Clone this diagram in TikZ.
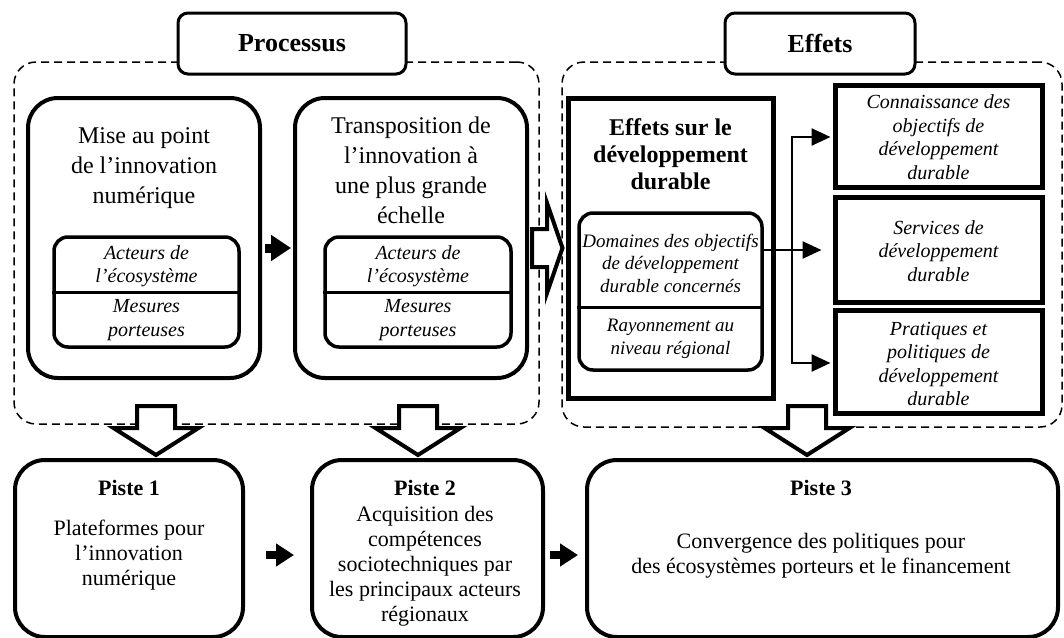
\documentclass[tikz,border=0pt]{standalone}
\usepackage{fontspec}
\setmainfont{Liberation Serif}
\usetikzlibrary{arrows.meta,calc}
\tikzset{
  bigbox/.style={draw, line width=4pt, rounded corners=30pt, inner sep=0pt},
  innerbox/.style={draw, line width=3.5pt, rounded corners=14pt, inner sep=0pt},
  sqbox/.style={draw, line width=5pt, inner sep=0pt},
  titlebox/.style={draw, line width=3pt, rounded corners=10pt, fill=white, inner sep=0pt,
     font=\fontsize{26}{30}\selectfont\bfseries},
  dashbox/.style={draw, dash pattern=on 8pt off 5pt, line width=1.5pt, rounded corners=22pt, inner sep=0pt},
  harrow/.style={draw, line width=4pt, fill=white, line join=miter},
  fatarrow/.style={line width=9pt, -{Triangle[length=20pt,width=25pt]}},
  fatarrowb/.style={line width=8pt, -{Triangle[length=18pt,width=22pt]}},
  thinarrow/.style={line width=2.5pt, -{Triangle[length=19pt,width=17pt]}},
  bigtxt/.style={align=center, inner sep=0pt, font=\fontsize{24}{30}\selectfont},
  boldtxt/.style={align=center, inner sep=0pt, font=\fontsize{24}{27}\selectfont\bfseries},
  ittxt/.style={align=center, inner sep=0pt, font=\fontsize{20}{23.5}\selectfont\itshape},
  ittxtb/.style={align=center, inner sep=0pt, font=\fontsize{19}{22.5}\selectfont\itshape},
  pistetitle/.style={inner sep=0pt, font=\fontsize{22}{26}\selectfont\bfseries},
  pistetxt/.style={align=center, inner sep=0pt, font=\fontsize{22}{25}\selectfont},
}
\begin{document}
\begin{tikzpicture}[x=1pt,y=-1pt]
\useasboundingbox (0,0) rectangle (1064,637);
% dashed groups
\node[dashbox, minimum width=525pt, minimum height=362pt] (gL) at (276.5,243) {};
\node[dashbox, minimum width=500pt, minimum height=365pt] (gR) at (812,244.5) {};
% titles
\node[titlebox, minimum width=228pt, minimum height=61pt] (proc) at (292,43.5) {Processus};
\node[titlebox, minimum width=190pt, minimum height=61pt] (eff) at (820,43.5) {Effets};
% process boxes
\node[bigbox, minimum width=232pt, minimum height=280pt] (mise) at (144,238) {};
\node[bigtxt] (misetxt) at (144,168) {Mise au point\\de l’innovation\\numérique};
\node[innerbox, minimum width=185pt, minimum height=110pt] (mi) at (146.5,292) {};
\draw[line width=3pt] (mi.west) -- (mi.east);
\node[ittxt] (miA) at (146.5,266) {Acteurs de\\l’écosystème};
\node[ittxt] (miB) at (146.5,320) {Mesures\\porteuses};

\node[bigbox, minimum width=232pt, minimum height=280pt] (trans) at (411,238) {};
\node[bigtxt] (transtxt) at (411,170) {Transposition de\\l’innovation à\\une plus grande\\échelle};
\node[innerbox, minimum width=186pt, minimum height=110pt] (ti) at (418,292) {};
\draw[line width=3pt] (ti.west) -- (ti.east);
\node[ittxt] (tiA) at (418,266) {Acteurs de\\l’écosystème};
\node[ittxt] (tiB) at (418,320) {Mesures\\porteuses};

\draw[fatarrow, shorten <=3pt, shorten >=2pt] ([yshift=-10pt]mise.east) -- ([yshift=-10pt]trans.west);

% effects
\node[sqbox, minimum width=205pt, minimum height=300pt] (esd) at (670.5,248) {};
\node[boldtxt] (esdtxt) at (670.5,154) {Effets sur le\\développement\\durable};
\node[innerbox, minimum width=183pt, minimum height=157pt] (dom) at (670.5,291.5) {};
\draw[line width=3pt] ($(dom.west)+(0,15.5)$) -- ($(dom.east)+(0,15.5)$);
\node[ittxtb] (domA) at (670.5,263) {Domaines des objectifs\\de développement\\durable concernés};
\node[ittxtb] (domB) at (670.5,339) {Rayonnement au\\niveau régional};

\node[sqbox, minimum width=207pt, minimum height=102pt] (r1) at (938.5,136) {};
\node[ittxt] (r1t) at (938.5,137) {Connaissance des\\objectifs de\\développement\\durable};
\node[sqbox, minimum width=207pt, minimum height=105pt] (r2) at (938.5,249.5) {};
\node[ittxt] (r2t) at (938.5,251) {Services de\\développement\\durable};
\node[sqbox, minimum width=207pt, minimum height=103pt] (r3) at (938.5,361.5) {};
\node[ittxt] (r3t) at (938.5,364) {Pratiques et\\politiques de\\développement\\durable};

\coordinate (jn) at ($(dom.east |- 0,250)$);
\coordinate (jx) at (792,250);
\draw[line width=2.5pt] (jn) -- (jx);
\draw[thinarrow] (jx) -- ($(r2.west |- jx)+(-11,0)$);
\draw[thinarrow] (jx) |- ($(r1.west)+(-2,1)$);
\draw[thinarrow] (jx) |- ($(r3.west)+(-2,1.5)$);

% hollow right arrow
\draw[harrow] (532,229) -- (547,229) -- (547,203) -- ($(esd.west)+(-3,0)$) -- (547,293) -- (547,267) -- (532,267) -- cycle;

% pistes
\node[bigbox, minimum width=228pt, minimum height=177pt] (p1) at (129,548.5) {};
\node[pistetitle] (p1t) at (129,488) {Piste 1};
\node[pistetxt] (p1x) at (129,555) {Plateformes pour\\l’innovation\\numérique};
\node[bigbox, minimum width=231pt, minimum height=177pt] (p2) at (427.5,548.5) {};
\node[pistetitle] (p2t) at (425,488) {Piste 2};
\node[pistetxt] (p2x) at (425,566) {Acquisition des\\compétences\\sociotechniques par\\les principaux acteurs\\régionaux};
\node[bigbox, minimum width=471pt, minimum height=177pt] (p3) at (822.5,548.5) {};
\node[pistetitle] (p3t) at (821,488) {Piste 3};
\node[pistetxt] (p3x) at (821,556) {Convergence des politiques pour\\des écosystèmes porteurs et le financement};

\draw[fatarrowb, shorten <=21pt, shorten >=16pt] ($(p1.east |- 0,555)$) -- ($(p2.west |- 0,555)$);
\draw[fatarrowb, shorten <=5pt, shorten >=7pt] ($(p2.east |- 0,555)$) -- ($(p3.west |- 0,555)$);

% hollow down arrows
\coordinate (t1) at ($(p1.north -| 156,0)+(0,-3)$);
\coordinate (t2) at ($(p2.north -| 418,0)+(0,-3)$);
\coordinate (t3) at ($(p3.north -| 807,0)+(0,-3)$);
\foreach \t in {t1,t2,t3}{
  \draw[harrow] (\t) -- ++(-42.5,-27) -- ++(23.5,0) -- ++(0,-22) -- ++(38,0) -- ++(0,22) -- ++(23.5,0) -- cycle;
}
\end{tikzpicture}
\end{document}
